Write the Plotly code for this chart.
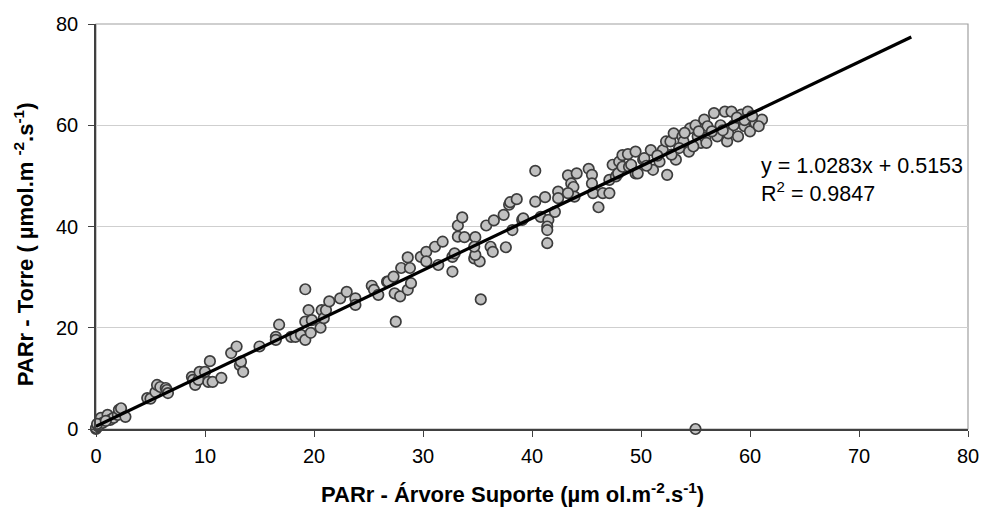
import plotly.graph_objects as go

# PARr measured at the support tree (x) and at the tower (y), µmol.m-2.s-1
arvore_suporte = [
    0.0, 0.0, 0.2, 0.45, 0.6, 1.06, 1.3, 1.6, 2.0, 2.1, 2.3, 2.7, 0.1, 0.9,
    4.7, 5.0, 5.45, 5.6, 5.9, 6.4, 6.5, 6.6,
    8.8, 8.9, 9.1, 9.4, 9.5, 10.0, 10.3, 10.45, 10.7, 11.5, 12.4, 12.9, 13.2, 13.3, 13.5,
    15.0, 16.5, 16.5, 16.8, 17.9, 18.3, 18.8, 19.2, 19.2, 19.5, 19.2, 19.7, 19.8, 20.6,
    20.7, 20.9, 21.1, 21.4, 22.4, 23.0, 23.8, 23.8, 25.3, 25.5, 25.9, 26.7, 26.8, 27.3,
    27.4, 27.5, 27.9, 28.6, 28.9, 28.0, 28.8, 28.6,
    29.8, 30.3, 30.3, 31.1, 31.4, 31.8, 32.7, 32.7, 32.9, 33.2, 33.2, 33.6, 33.8, 34.8,
    34.7, 35.2, 34.8, 35.3, 34.7, 35.8, 36.2, 36.4, 36.5, 37.6, 37.4, 37.9, 38.0, 38.6,
    38.2, 39.1, 39.2,
    40.3, 40.3, 41.2, 40.8, 41.5, 41.4, 41.4, 41.4, 42.1, 42.4, 42.4, 43.3, 44.1, 43.6,
    43.8, 43.9, 43.3, 45.2, 45.5, 45.5, 45.6, 46.1, 46.5, 47.1, 47.1, 47.4,
    47.7, 48.0, 47.9, 48.3, 48.3, 48.8, 48.9, 49.1, 49.5, 49.5, 49.7, 50.2, 50.3, 50.9,
    51.1, 51.7, 52.0, 52.3, 52.4, 52.7, 53.0, 53.2, 53.8, 53.9, 54.4, 54.5, 55.0, 55.2,
    55.5, 55.8, 55.9, 56.1, 56.7, 57.0, 57.3, 57.7, 57.9, 58.0, 58.3, 58.5, 58.9, 59.2,
    59.5, 59.8, 60.0, 60.5, 61.1,
    50.5, 51.5, 53.5, 54.0, 56.5, 57.5, 58.8, 59.5, 60.2, 60.8, 56.0, 54.8, 52.8, 55.3,
    55.0,
]
torre = [
    0.0, 0.2, 0.5, 2.2, 1.2, 2.8, 1.8, 2.2, 2.8, 3.8, 4.1, 2.4, 1.0, 1.6,
    6.1, 6.0, 7.3, 8.7, 8.3, 8.1, 7.7, 7.1,
    10.3, 9.7, 8.7, 9.7, 11.3, 11.3, 9.3, 13.4, 9.3, 10.1, 15.0, 16.3, 12.6, 13.3, 11.3,
    16.3, 18.2, 17.6, 20.6, 18.2, 18.2, 18.6, 17.6, 27.6, 23.5, 21.2, 19.0, 21.5, 20.0,
    23.5, 21.9, 23.5, 25.2, 25.8, 27.1, 25.8, 24.5, 28.3, 27.5, 26.5, 29.1, 29.1, 30.1,
    26.8, 21.2, 26.2, 27.5, 28.8, 31.8, 31.8, 33.9,
    34.0, 35.0, 33.1, 36.0, 32.4, 37.0, 31.1, 34.0, 34.7, 38.0, 40.2, 41.8, 37.9, 37.9,
    33.7, 33.1, 34.4, 25.6, 36.0, 40.2, 36.0, 35.0, 41.2, 35.9, 42.3, 44.3, 44.8, 45.4,
    39.3, 41.3, 41.6,
    51.0, 44.9, 45.8, 41.9, 41.3, 40.0, 36.7, 39.3, 42.9, 46.9, 45.6, 50.1, 50.5, 48.5,
    47.8, 45.9, 46.6, 51.4, 50.2, 48.5, 46.6, 43.8, 46.6, 46.6, 49.2, 52.2,
    49.9, 52.8, 50.5, 51.8, 54.1, 54.3, 51.8, 52.2, 54.8, 50.5, 50.5, 53.2, 53.5, 55.1,
    51.2, 52.8, 55.1, 56.8, 50.2, 56.8, 58.4, 53.2, 57.8, 56.8, 54.8, 59.4, 60.0, 57.8,
    56.5, 61.1, 57.5, 59.8, 62.4, 57.8, 60.0, 62.7, 56.8, 58.4, 62.7, 60.0, 57.8, 62.1,
    59.8, 62.7, 58.8, 60.4, 61.1,
    52.0, 54.0, 55.5, 58.5, 58.8, 59.0, 61.5, 61.0, 61.8, 59.8, 56.5, 55.8, 54.2, 58.8,
    0.0,
]

# Linear trendline as reported on the chart
slope = 1.0283
intercept = 0.5153
r_squared = 0.9847
trend_x = [0.0, 74.8]
trend_y = [slope * v + intercept for v in trend_x]

x_ticks = [0, 10, 20, 30, 40, 50, 60, 70, 80]
y_ticks = [0, 20, 40, 60, 80]

FONT = "Liberation Sans, Arial, sans-serif"

fig = go.Figure()
fig.add_trace(go.Scatter(
    x=arvore_suporte, y=torre, mode="markers",
    marker=dict(size=10.5, color="#c0c0c0", line=dict(color="#3c3c3c", width=1.7)),
    showlegend=False, cliponaxis=False,
))
fig.add_trace(go.Scatter(
    x=trend_x, y=trend_y, mode="lines",
    line=dict(color="#000000", width=3.2),
    showlegend=False, cliponaxis=False,
))

axis_common = dict(
    showline=True, linecolor="#404040", linewidth=1.5,
    ticks="outside", ticklen=6, tickcolor="#404040", tickwidth=1.2,
    tickfont=dict(family=FONT, size=20, color="#000000"),
    zeroline=False,
)
fig.update_xaxes(range=[0, 80], tickvals=x_ticks, showgrid=False,
                 ticklabelstandoff=2, **axis_common)
fig.update_yaxes(range=[0, 80], tickvals=y_ticks, showgrid=True,
                 gridcolor="#cfcfcf", gridwidth=1, ticklabelstandoff=6, **axis_common)

fig.update_layout(
    width=991, height=523,
    margin=dict(l=96, r=14, t=24, b=94),
    plot_bgcolor="#ffffff", paper_bgcolor="#ffffff",
    shapes=[dict(type="rect", xref="paper", yref="paper", x0=0, y0=0, x1=1, y1=1,
                 line=dict(color="#a0a0a0", width=1.2), layer="below")],
    annotations=[
        dict(text="<b>PARr - Árvore Suporte (µm ol.m<sup>-2</sup>.s<sup>-1</sup>)</b>",
             xref="x", yref="paper", x=38.2, y=0, yshift=-64,
             showarrow=False, font=dict(family=FONT, size=22, color="#000000"),
             xanchor="center", yanchor="middle"),
        dict(text="<b>PARr - Torre ( µmol.m <sup>-2</sup>.s<sup>-1</sup>)</b>",
             xref="paper", yref="y", x=0, xshift=-72, y=36.5, textangle=-90,
             showarrow=False, font=dict(family=FONT, size=22, color="#000000"),
             xanchor="center", yanchor="middle"),
        dict(text=f"y = {slope}x + {intercept}<br>R<sup>2</sup> = {r_squared}",
             xref="x", yref="y", x=60.8, y=49.2, align="left",
             showarrow=False, font=dict(family=FONT, size=21.5, color="#000000"),
             xanchor="left", yanchor="middle"),
    ],
)

fig.write_html("out.html")
